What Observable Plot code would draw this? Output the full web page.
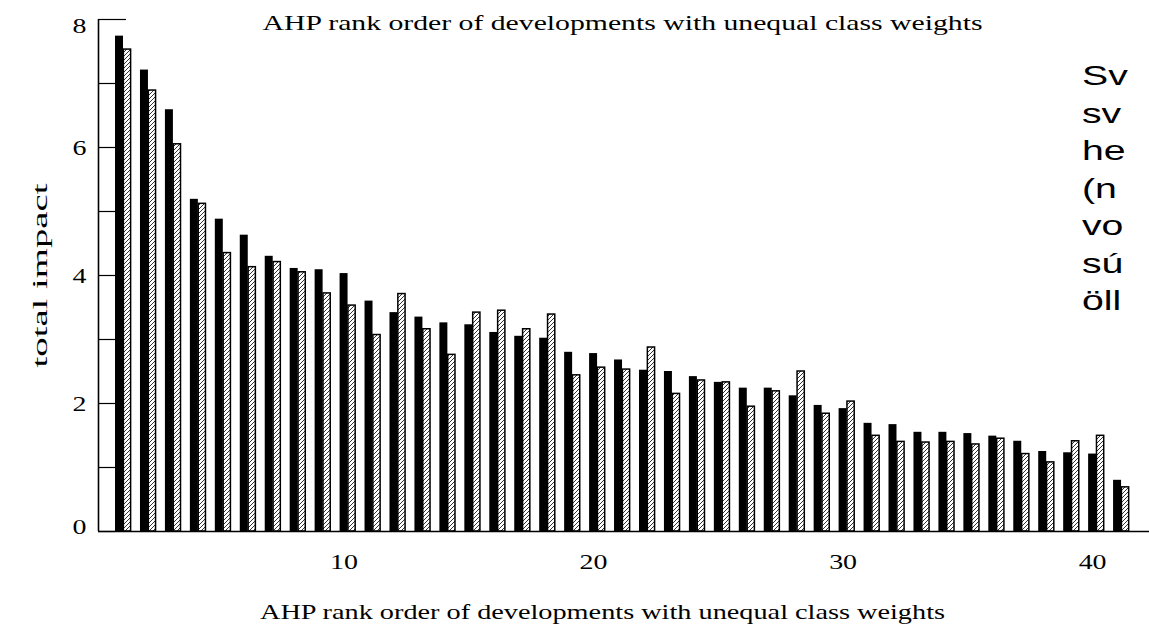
<!DOCTYPE html>
<html>
<head>
<meta charset="utf-8">
<script src="https://cdn.jsdelivr.net/npm/d3@7"></script>
<script src="https://cdn.jsdelivr.net/npm/@observablehq/plot@0.6"></script>
<style>
html, body { margin: 0; padding: 0; background: #fff; width: 1149px; height: 628px; overflow: hidden; }
#wrap { position: relative; width: 1149px; height: 628px; overflow: hidden; background: #fff; }
#wrap svg { position: absolute; left: 0; top: 0; }
#note { position: absolute; left: 1082px; top: 57px; font-family: "Liberation Sans", Arial, sans-serif; font-size: 28px; line-height: 37.5px; color: #000; transform: scaleX(1.4); transform-origin: left top; white-space: nowrap; }
</style>
</head>
<body>
<div id="wrap"><div id="note"></div></div>
<script>
// ---- data ----
const ranks = d3.range(1, 42);
const blackValues = [7.74, 7.21, 6.59, 5.19, 4.88, 4.63, 4.30, 4.11, 4.09, 4.03,
  3.60, 3.42, 3.35, 3.26, 3.23, 3.11, 3.05, 3.02, 2.80, 2.78,
  2.68, 2.52, 2.50, 2.42, 2.33, 2.24, 2.24, 2.12, 1.97, 1.92,
  1.69, 1.67, 1.55, 1.55, 1.53, 1.49, 1.41, 1.25, 1.23, 1.21, 0.80];
const hatchedValues = [7.53, 6.89, 6.05, 5.12, 4.35, 4.13, 4.21, 4.05, 3.72, 3.53,
  3.07, 3.71, 3.16, 2.76, 3.42, 3.45, 3.16, 3.39, 2.44, 2.56,
  2.53, 2.875, 2.15, 2.36, 2.33, 1.95, 2.19, 2.50, 1.84, 2.03,
  1.495, 1.40, 1.39, 1.40, 1.36, 1.45, 1.21, 1.08, 1.41, 1.495, 0.69];
const yTickValues = [0, 1, 2, 3, 4, 5, 6, 7, 8];
const yTickLabelsMid = [2, 4, 6];
const yTickLabelTop = [8];
const yTickLabelBottom = [0];
const xTickLabels = [10, 20, 30, 40];
const titleText = "AHP rank order of developments with unequal class weights";
const xLabelText = "AHP rank order of developments with unequal class weights";
const yLabelText = "total impact";
const noteLines = ["Sv", "sv", "he", "(n", "vo", "sú", "öll"];

// ---- build tables ----
const blackData = ranks.map((r, i) => ({rank: r, value: blackValues[i]}));
const hatchedData = ranks.map((r, i) => ({rank: r, value: hatchedValues[i]}));

const W = 1149, H = 628, mL = 98, mR = 0, mT = 19, mB = 97;
const frameW = W - mL - mR;
const xDomain = [0.158, 42.28];
const yAxisOpts = {tickSize: 0, tickPadding: 12, label: null, fontSize: 22, tickFormat: d => String(d)};

const chart = Plot.plot({
  width: W, height: H,
  marginLeft: mL, marginRight: mR, marginTop: mT, marginBottom: mB,
  style: {fontFamily: '"Liberation Serif", "Times New Roman", serif', fontSize: "22px", color: "#000", background: "#fff", overflow: "visible"},
  x: {domain: xDomain, label: null},
  y: {domain: [0, 8], label: null},
  marks: [
    Plot.rectY(blackData, {x1: d => d.rank - 0.16, x2: d => d.rank + 0.16, y1: 0, y2: "value", fill: "#000"}),
    Plot.rectY(hatchedData, {x1: d => d.rank + 0.175, x2: d => d.rank + 0.465, y1: 0, y2: "value", fill: "url(#hatch)", stroke: "#000", strokeWidth: 1.5}),
    Plot.ruleY(yTickValues.filter(v => v < 8), {insetRight: frameW - 17, stroke: "#000", strokeWidth: 1.2}),
    Plot.ruleY([8], {insetRight: frameW - 28, stroke: "#000", strokeWidth: 1.2}),
    Plot.ruleY([0], {stroke: "#000", strokeWidth: 1.6}),
    Plot.ruleX([xDomain[0]], {stroke: "#000", strokeWidth: 1.6}),
    Plot.axisY({ticks: yTickLabelsMid, ...yAxisOpts}),
    Plot.axisY({ticks: yTickLabelTop, ...yAxisOpts, dy: 6}),
    Plot.axisY({ticks: yTickLabelBottom, ...yAxisOpts, dy: -5}),
    Plot.axisX({ticks: xTickLabels, tickSize: 0, tickPadding: 22, label: null, fontSize: 22, tickFormat: d => String(d)}),
    Plot.text([titleText], {frameAnchor: "top", dx: -1.5, dy: 10, lineAnchor: "bottom", textAnchor: "middle", fontSize: 21.5}),
    Plot.text([xLabelText], {frameAnchor: "bottom", dx: -21.5, dy: 87, lineAnchor: "bottom", textAnchor: "middle", fontSize: 21}),
    Plot.text([yLabelText], {frameAnchor: "left", dx: -52, rotate: -90, lineAnchor: "bottom", textAnchor: "middle", fontSize: 21})
  ]
});

d3.select(chart).insert("defs", ":first-child").html(
  '<pattern id="hatch" patternUnits="userSpaceOnUse" width="4" height="4">' +
  '<rect width="4" height="4" fill="#fff"/>' +
  '<path d="M-1,1 l2,-2 M0,4 l4,-4 M3,5 l2,-2" stroke="#333" stroke-width="1"/>' +
  '</pattern>');

const wrap = document.getElementById("wrap");
wrap.insertBefore(chart, wrap.firstChild);
document.getElementById("note").innerHTML = noteLines.join("<br>");

// stretch texts horizontally like the reference's wide glyphs
let longCount = 0;
d3.select(chart).selectAll("text").each(function() {
  const t = (this.textContent || "").trim();
  let len = null;
  try { len = this.getComputedTextLength(); } catch (e) { len = null; }
  let target = null;
  if (t === titleText) { target = longCount === 0 ? 720 : 685; longCount++; }
  else if (t === yLabelText) target = 184;
  else if (/^\d+$/.test(t) && len) target = len * 1.27;
  if (target) {
    this.setAttribute("textLength", String(target));
    this.setAttribute("lengthAdjust", "spacingAndGlyphs");
  }
});
</script>
</body>
</html>
